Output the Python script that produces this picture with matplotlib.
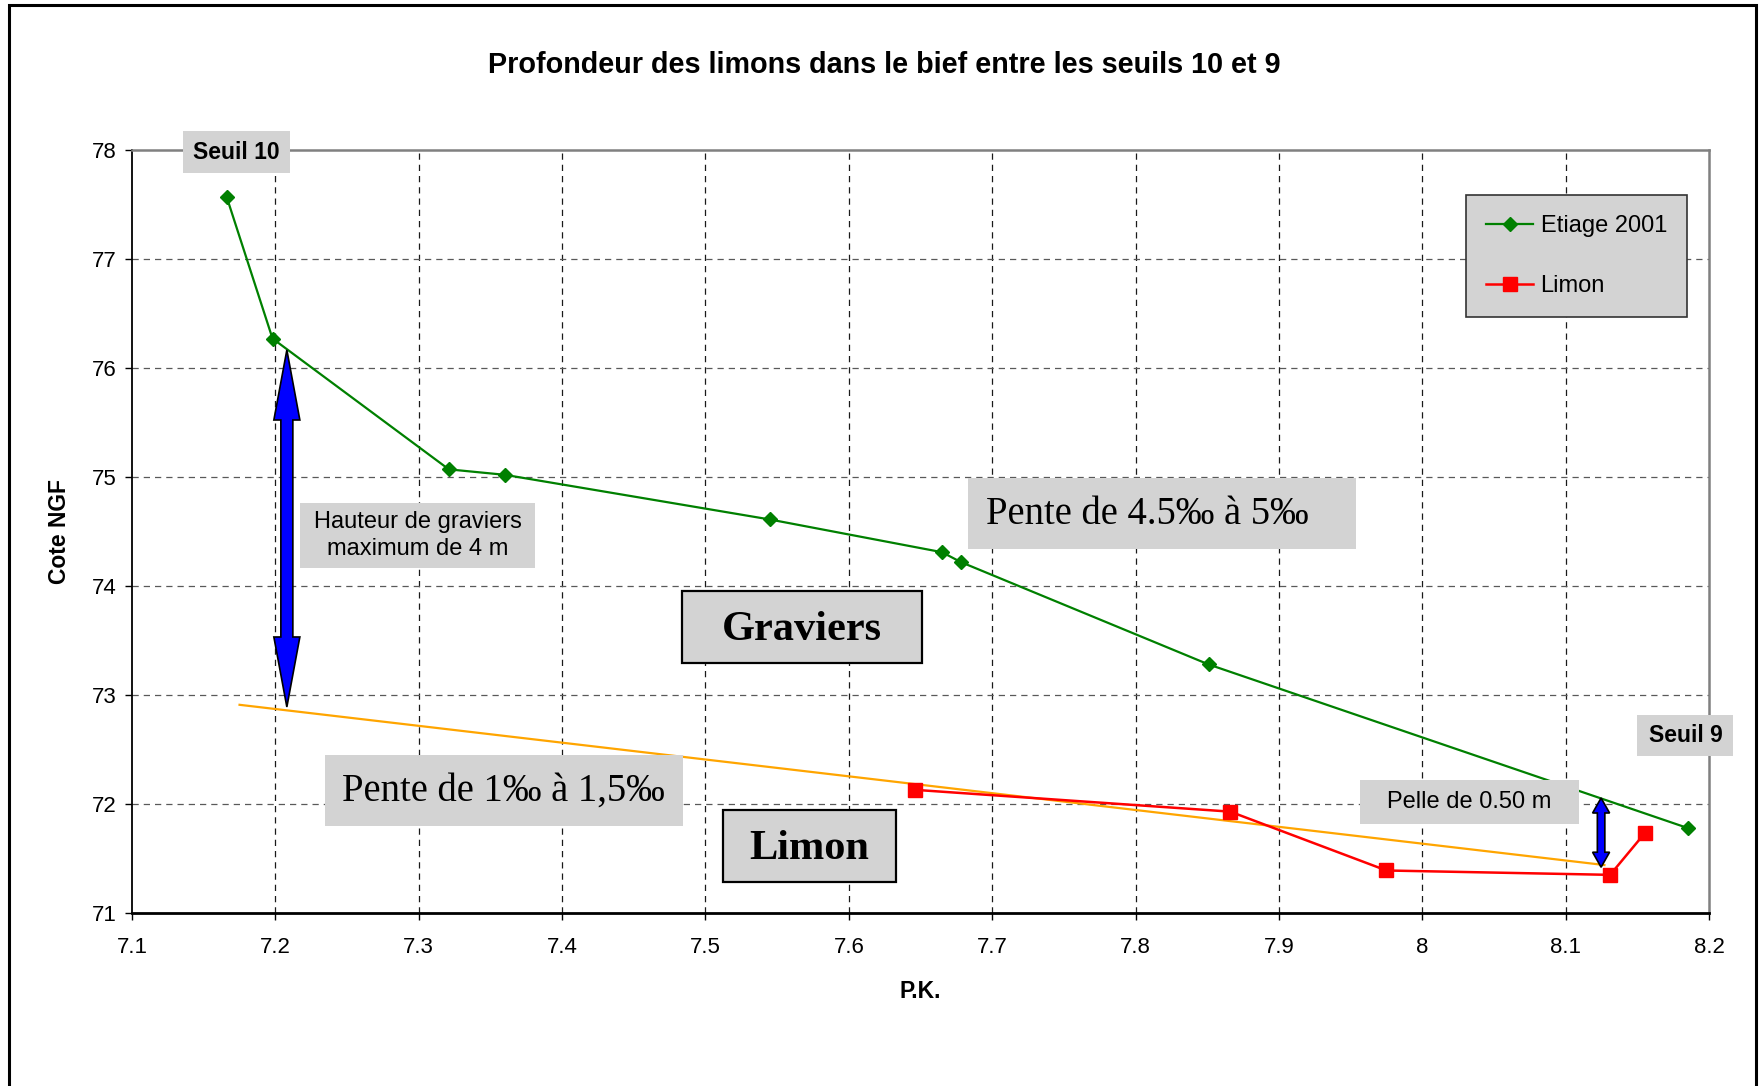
import numpy as np
import matplotlib
matplotlib.use("Agg")
import matplotlib.pyplot as plt
from matplotlib.patches import Rectangle, Polygon

plt.rcParams['font.family'] = ['Liberation Sans', 'DejaVu Sans']

# données
pk_etiage = [7.166, 7.198, 7.321, 7.360, 7.545, 7.665, 7.678, 7.851, 8.185]
cote_etiage = [77.57, 76.27, 75.07, 75.02, 74.61, 74.31, 74.22, 73.28, 71.78]
pk_limon = [7.646, 7.866, 7.975, 8.131, 8.155]
cote_limon = [72.13, 71.93, 71.39, 71.35, 71.73]
pk_pente = [7.175, 8.127]
cote_pente = [72.91, 71.44]

xticks = [7.1, 7.2, 7.3, 7.4, 7.5, 7.6, 7.7, 7.8, 7.9, 8.0, 8.1, 8.2]
xticklabels = ["7.1", "7.2", "7.3", "7.4", "7.5", "7.6", "7.7", "7.8", "7.9", "8", "8.1", "8.2"]
yticks = [71, 72, 73, 74, 75, 76, 77, 78]

GRIS = '#d3d3d3'

fig = plt.figure(figsize=(17.65, 10.86), dpi=100)
ax = fig.add_axes([0.0748, 0.1593, 0.8935, 0.7026])
ax.set_xlim(7.1, 8.2)
ax.set_ylim(71, 78)

# cadre du graphique
fig.patches.append(Rectangle((0.0051, -0.05), 0.9898, 1.0454, transform=fig.transFigure,
                             fill=False, ec='black', lw=2.2, zorder=0))

# grille
for x in xticks[1:-1]:
    ax.axvline(x, color='0.1', lw=0.9, dashes=(5, 4), zorder=1)
for y in yticks[1:-1]:
    ax.axhline(y, color='0.35', lw=0.9, dashes=(5, 4), zorder=1)

ax.plot(pk_pente, cote_pente, color='#ffa500', lw=1.6, zorder=3)
ax.plot(pk_etiage, cote_etiage, color='#008000', lw=1.6, marker='D', ms=7.5,
        label='Etiage 2001', zorder=4)
ax.plot(pk_limon, cote_limon, color='#ff0000', lw=1.8, marker='s', ms=9.5,
        label='Limon', zorder=4)

ax.set_xticks(xticks)
ax.set_xticklabels(xticklabels)
ax.set_yticks(yticks)
ax.tick_params(axis='both', labelsize=16, length=5, width=1, direction='out')
ax.tick_params(axis='x', pad=12)
ax.tick_params(axis='y', pad=6)

for s in ['top', 'right']:
    ax.spines[s].set_color('#808080')
    ax.spines[s].set_linewidth(1.8)
ax.spines['left'].set_linewidth(1.3)
ax.spines['bottom'].set_linewidth(2)

fig.text(0.501, 0.940, "Profondeur des limons dans le bief entre les seuils 10 et 9",
         ha='center', va='center', fontsize=20.7, fontweight='bold')
ax.set_xlabel("P.K.", fontsize=16.5, fontweight='bold')
ax.xaxis.set_label_coords(0.5, -0.088)
ax.set_ylabel("Cote NGF", fontsize=16.5, fontweight='bold')
ax.yaxis.set_label_coords(-0.039, 0.5)

leg = ax.legend(loc='upper right', bbox_to_anchor=(0.986, 0.941), borderaxespad=0,
                fontsize=17, fancybox=False, framealpha=1, facecolor=GRIS,
                edgecolor='0.2', handlelength=2.0, handletextpad=0.3,
                borderpad=0.85, labelspacing=1.6)
leg.get_frame().set_linewidth(1.2)
leg.set_zorder(7)


def boite(x0, x1, y0, y1, texte, tx, ty, ha='center', bord=False, **kw):
    ax.add_patch(Rectangle((x0, y0), x1 - x0, y1 - y0, fc=GRIS,
                           ec='black' if bord else 'none', lw=1.6,
                           zorder=6, clip_on=False))
    ax.text(tx, ty, texte, ha=ha, va='center', zorder=7, clip_on=False, **kw)


serif = ['Liberation Serif', 'DejaVu Serif']
boite(7.1356, 7.2102, 77.786, 78.178, "Seuil 10", 7.173, 77.98,
      fontsize=16.5, fontweight='bold')
boite(8.150, 8.217, 72.437, 72.818, "Seuil 9", 8.1835, 72.63,
      fontsize=16.5, fontweight='bold')
boite(7.2175, 7.3809, 74.162, 74.761, "Hauteur de graviers\nmaximum de 4 m", 7.2992, 74.46,
      fontsize=17, linespacing=1.3)
boite(7.683, 7.954, 74.337, 74.987, "Pente de 4.5‰ à 5‰", 7.6957, 74.66, ha='left',
      fontsize=27.8, family=serif)
boite(7.4837, 7.651, 73.294, 73.954, "Graviers", 7.567, 73.60, bord=True,
      fontsize=30.5, fontweight='bold', family=serif)
boite(7.2348, 7.4845, 71.797, 72.447, "Pente de 1‰ à 1,5‰", 7.2466, 72.12, ha='left',
      fontsize=27.8, family=serif)
boite(7.512, 7.633, 71.28, 71.941, "Limon", 7.5725, 71.585, bord=True,
      fontsize=30.5, fontweight='bold', family=serif)
boite(7.9564, 8.1095, 71.82, 72.22, "Pelle de 0.50 m", 8.0326, 72.02,
      fontsize=17)


def fleche(x, y_bas, y_haut, corps, tete_l, tete_h):
    # flèche double verticale, largeurs en pixels
    cx, yb = ax.transData.transform((x, y_bas))
    _, yh = ax.transData.transform((x, y_haut))
    c, t = corps / 2, tete_l / 2
    pts = [(cx, yh), (cx + t, yh - tete_h), (cx + c, yh - tete_h), (cx + c, yb + tete_h),
           (cx + t, yb + tete_h), (cx, yb), (cx - t, yb + tete_h), (cx - c, yb + tete_h),
           (cx - c, yh - tete_h), (cx - t, yh - tete_h)]
    pts = ax.transData.inverted().transform(pts)
    ax.add_patch(Polygon(pts, closed=True, fc='#0000ff', ec='black', lw=1.2,
                         zorder=5, clip_on=False))


fleche(7.208, 72.89, 76.165, 12, 26, 70)
fleche(8.1247, 71.42, 72.055, 7.5, 17, 15)

fig.savefig("out.png", dpi=100)
